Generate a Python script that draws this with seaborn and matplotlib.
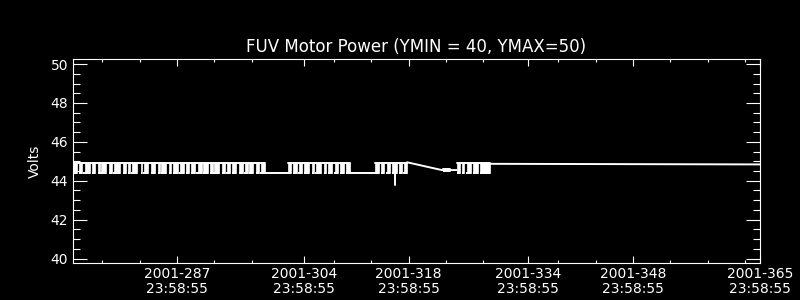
import numpy as np
import pandas as pd
import matplotlib
matplotlib.use("Agg")
import matplotlib.pyplot as plt
import seaborn as sns
from matplotlib.ticker import FixedLocator, FixedFormatter

# ---------------- data ----------------
TITLE = "FUV Motor Power (YMIN = 40, YMAX=50)"
Y_LABEL = "Volts"
YEAR = 2001
TICK_DAYS = [287, 304, 318, 334, 348, 365]
TICK_TIME = "23:58:55"
MINOR_DAYS = [277, 282, 292, 297, 308, 313, 323, 328, 338, 343, 353, 358, 363]
Y_TICKS = [40, 42, 44, 46, 48, 50]

# x values: fractional day of year
X_START = 274.08
X_END = 366.0

# rapidly toggling blocks (envelope between a low and a high level)
BLOCK_START = [274.08, 302.85, 314.49, 323.55, 325.42]
BLOCK_END = [299.77, 311.15, 318.77, 324.55, 329.88]
BLOCK_LOW = [44.38, 44.38, 44.38, 44.50, 44.42]
BLOCK_HIGH = [44.92, 44.92, 44.93, 44.60, 44.93]

# spans inside the blocks where the signal did not toggle
# (centre, width in days, 1 = stayed high, 0 = stayed high then low)
NOTCH_CENTER = [274.70, 275.45, 276.50, 277.20, 277.75, 278.70, 279.40, 280.55,
                281.30, 281.85, 282.90, 283.45, 284.30, 285.20, 285.80, 286.70,
                287.35, 288.25, 289.10, 289.75, 290.60, 291.40, 292.30, 292.85,
                293.80, 294.55, 295.20, 296.10, 296.95, 297.55, 298.40, 299.10,
                303.40, 304.20, 304.90, 305.80, 306.50, 307.45, 308.10, 309.00,
                309.70, 310.45,
                315.20, 315.90, 316.60, 317.55, 318.20,
                325.95, 326.60, 327.45, 328.40]
NOTCH_WIDTH = [0.30, 0.45, 0.25, 0.35, 0.20, 0.50, 0.30, 0.40, 0.25, 0.20, 0.45,
               0.25, 0.35, 0.40, 0.20, 0.45, 0.25, 0.35, 0.30, 0.20, 0.50, 0.25,
               0.35, 0.20, 0.40, 0.30, 0.25, 0.45, 0.30, 0.20, 0.40, 0.30,
               0.35, 0.30, 0.25, 0.40, 0.30, 0.35, 0.25, 0.40, 0.30, 0.25,
               0.30, 0.35, 0.25, 0.30, 0.25,
               0.30, 0.30, 0.25, 0.35]
NOTCH_KIND = [1, 0, 1, 1, 0, 1, 0, 1, 1, 0, 1, 0, 1, 1, 0, 1, 1, 0, 1, 1, 0, 1,
              1, 0, 1, 0, 1, 1, 0, 1, 1, 0,
              1, 0, 1, 1, 0, 1, 1, 0, 1, 1,
              1, 0, 1, 1, 0,
              1, 0, 1, 1]

# steady line segments between the blocks
SEG_ID = [1, 1, 2, 2, 3, 3, 3, 4, 4, 5, 5]
SEG_DAY = [299.77, 302.85, 311.15, 314.49, 318.77, 323.42, 325.42, 329.88, 366.0,
           317.13, 317.13]
SEG_VOLTS = [44.42, 44.42, 44.38, 44.38, 44.95, 44.55, 44.55, 44.87, 44.84,
             44.38, 43.78]

# ---------------- plot ----------------
sns.set_theme(style="dark")
plt.rcParams["font.family"] = ["DejaVu Sans"]

fig = plt.figure(figsize=(8, 3), dpi=100, facecolor="black")
ax = fig.add_axes([0.09125, 0.1233, 0.85875, 0.68])
ax.set_facecolor("black")

TOD = (23 * 3600 + 58 * 60 + 55) / 86400.0
LW = 1.4

seg_df = pd.DataFrame({"day": SEG_DAY, "volts": SEG_VOLTS, "seg": SEG_ID})
sns.lineplot(data=seg_df, x="day", y="volts", units="seg", estimator=None,
             color="white", linewidth=LW, ax=ax, legend=False)

nc = np.array(NOTCH_CENTER)
nw = np.array(NOTCH_WIDTH)
nk = np.array(NOTCH_KIND)
for s, e, lo, hi in zip(BLOCK_START, BLOCK_END, BLOCK_LOW, BLOCK_HIGH):
    inside = (nc > s) & (nc < e)
    edges = [s]
    low_x, low_y = [], []
    for c, w, k in zip(nc[inside], nw[inside], nk[inside]):
        edges += [c - w / 2, c + w / 2]
    edges.append(e)
    # filled (toggling) stretches
    for a, b in zip(edges[0::2], edges[1::2]):
        ax.fill_between([a, b], [lo, lo], [hi, hi], color="white",
                        linewidth=0.5, edgecolor="white")
        low_x += [a, b, np.nan]
        low_y += [lo, lo, np.nan]
    # notches where the signal stayed high then dropped low
    for c, w, k in zip(nc[inside], nw[inside], nk[inside]):
        if k == 0:
            low_x += [c, c + w / 2, np.nan]
            low_y += [lo, lo, np.nan]
    top = pd.DataFrame({"day": [s, e], "volts": [hi, hi]})
    sns.lineplot(data=top, x="day", y="volts", estimator=None, color="white",
                 linewidth=LW, ax=ax, legend=False)
    ax.plot(low_x, low_y, color="white", linewidth=LW, solid_capstyle="butt")

ax.set_xlim(X_START, X_END)
ax.set_ylim(39.77, 50.26)

ax.xaxis.set_major_locator(FixedLocator([d + TOD for d in TICK_DAYS]))
ax.xaxis.set_major_formatter(FixedFormatter(
    [f"{YEAR}-{d}\n{TICK_TIME}" for d in TICK_DAYS]))
ax.xaxis.set_minor_locator(FixedLocator([d + TOD for d in MINOR_DAYS]))
ax.yaxis.set_major_locator(FixedLocator(Y_TICKS))
ax.yaxis.set_minor_locator(FixedLocator(np.arange(40, 50.01, 0.5)))

for sp in ax.spines.values():
    sp.set_color("white")
    sp.set_linewidth(0.8)
    sp.set_visible(True)

ax.tick_params(axis="x", which="major", direction="in", length=4.7, width=0.8,
               top=True, bottom=True, colors="white", labelsize=10, pad=3)
ax.tick_params(axis="x", which="minor", direction="in", length=2.4, width=0.8,
               top=True, bottom=True, colors="white")
ax.tick_params(axis="y", which="major", direction="in", length=10, width=0.8,
               left=True, right=True, colors="white", labelsize=10, pad=3.5)
ax.tick_params(axis="y", which="minor", direction="in", length=5, width=0.8,
               left=True, right=True, colors="white")
for lbl in ax.get_xticklabels():
    lbl.set_linespacing(1.1)

ax.grid(False)
ax.set_xlabel("")
ax.set_ylabel(Y_LABEL, color="white", fontsize=10, labelpad=6)
ax.set_title(TITLE, color="white", fontsize=12, pad=5)

fig.savefig("out.png", dpi=100, facecolor="black")
